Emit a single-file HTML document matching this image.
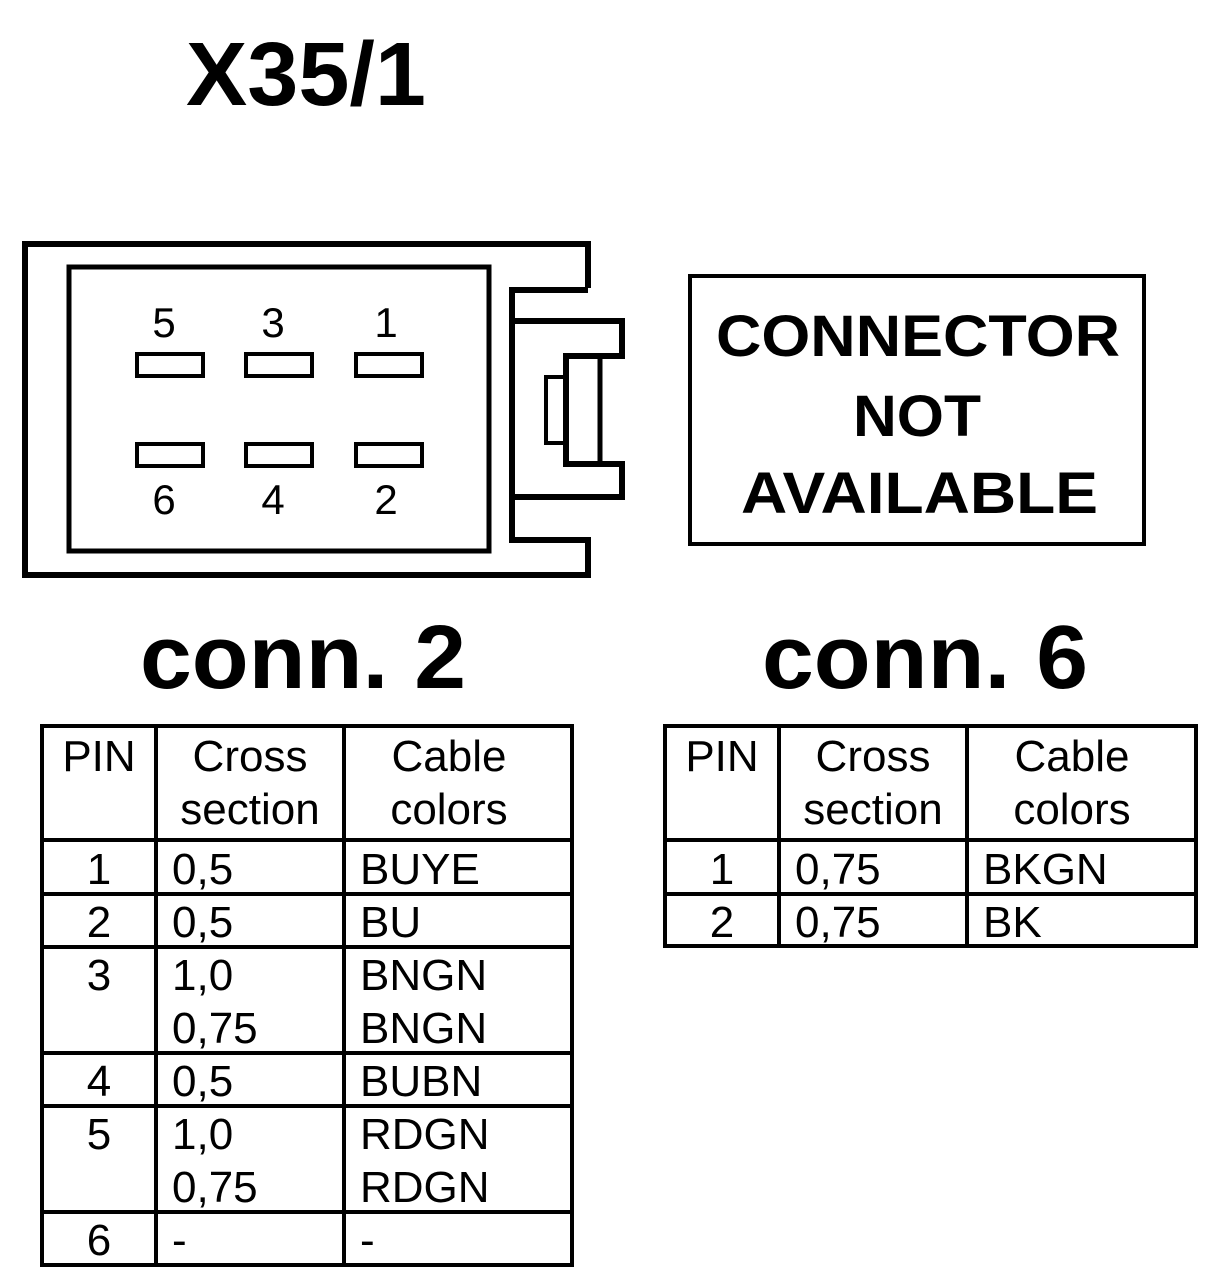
<!DOCTYPE html>
<html><head><meta charset="utf-8"><style>
html,body{margin:0;padding:0;background:#fff;}
svg{display:block}
text{font-family:"Liberation Sans",Arial,sans-serif;fill:#000}
</style></head><body>
<svg width="1216" height="1286" viewBox="0 0 1216 1286" xmlns="http://www.w3.org/2000/svg">
<rect width="1216" height="1286" fill="#fff"/>
<text x="186" y="105" font-size="90" font-weight="bold" textLength="240" lengthAdjust="spacingAndGlyphs">X35/1</text>
<g fill="none" stroke="#000">
<path d="M588,288 L588,244 L25,244 L25,575 L588,575 L588,540 L512,540 L512,290 L588,290" stroke-width="6"/>
<rect x="69" y="267" width="420" height="284" stroke-width="5"/>
<path d="M512,321 L622,321 L622,356 L566,356 L566,464 L622,464 L622,497 L512,497" stroke-width="6"/>
<line x1="600" y1="356" x2="600" y2="464" stroke-width="5"/>
<rect x="546" y="377" width="20" height="66" stroke-width="4"/>
<g stroke-width="4">
<rect x="137" y="354" width="66" height="22"/><rect x="246" y="354" width="66" height="22"/><rect x="356" y="354" width="66" height="22"/>
<rect x="137" y="444" width="66" height="22"/><rect x="246" y="444" width="66" height="22"/><rect x="356" y="444" width="66" height="22"/>
</g>
<rect x="690" y="276" width="454" height="268" stroke-width="4"/>
</g>
<g font-size="42" text-anchor="middle">
<text x="164" y="337">5</text><text x="273" y="337">3</text><text x="386" y="337">1</text>
<text x="164" y="514">6</text><text x="273" y="514">4</text><text x="386" y="514">2</text>
</g>
<g font-size="58" font-weight="bold" lengthAdjust="spacingAndGlyphs">
<text x="716" y="356" textLength="404" lengthAdjust="spacingAndGlyphs">CONNECTOR</text>
<text x="853" y="436" textLength="128" lengthAdjust="spacingAndGlyphs">NOT</text>
<text x="741" y="513" textLength="357" lengthAdjust="spacingAndGlyphs">AVAILABLE</text>
</g>
<text x="140" y="688" font-size="90" font-weight="bold" textLength="326" lengthAdjust="spacingAndGlyphs">conn. 2</text>
<text x="762" y="688" font-size="90" font-weight="bold" textLength="326" lengthAdjust="spacingAndGlyphs">conn. 6</text>
<g fill="none" stroke="#000" stroke-width="4">
<rect x="42" y="726" width="530" height="539"/>
<line x1="156" y1="726" x2="156" y2="1265"/><line x1="344" y1="726" x2="344" y2="1265"/>
<line x1="42" y1="840" x2="572" y2="840"/><line x1="42" y1="894" x2="572" y2="894"/>
<line x1="42" y1="947" x2="572" y2="947"/><line x1="42" y1="1053" x2="572" y2="1053"/>
<line x1="42" y1="1106" x2="572" y2="1106"/><line x1="42" y1="1212" x2="572" y2="1212"/>
<rect x="665" y="726" width="531" height="220"/>
<line x1="779" y1="726" x2="779" y2="946"/><line x1="967" y1="726" x2="967" y2="946"/>
<line x1="665" y1="840" x2="1196" y2="840"/><line x1="665" y1="894" x2="1196" y2="894"/>
</g>
<g font-size="44">
<g text-anchor="middle">
<text x="99" y="771">PIN</text><text x="250" y="771">Cross</text><text x="250" y="824">section</text>
<text x="449" y="771">Cable</text><text x="449" y="824">colors</text>
<text x="99" y="884">1</text><text x="99" y="937">2</text><text x="99" y="990">3</text>
<text x="99" y="1096">4</text><text x="99" y="1149">5</text><text x="99" y="1255">6</text>
<text x="722" y="771">PIN</text><text x="873" y="771">Cross</text><text x="873" y="824">section</text>
<text x="1072" y="771">Cable</text><text x="1072" y="824">colors</text>
<text x="722" y="884">1</text><text x="722" y="937">2</text>
</g>
<text x="172" y="884">0,5</text><text x="360" y="884">BUYE</text>
<text x="172" y="937">0,5</text><text x="360" y="937">BU</text>
<text x="172" y="990">1,0</text><text x="360" y="990">BNGN</text>
<text x="172" y="1043">0,75</text><text x="360" y="1043">BNGN</text>
<text x="172" y="1096">0,5</text><text x="360" y="1096">BUBN</text>
<text x="172" y="1149">1,0</text><text x="360" y="1149">RDGN</text>
<text x="172" y="1202">0,75</text><text x="360" y="1202">RDGN</text>
<text x="172" y="1255">-</text><text x="360" y="1255">-</text>
<text x="795" y="884">0,75</text><text x="983" y="884">BKGN</text>
<text x="795" y="937">0,75</text><text x="983" y="937">BK</text>
</g>
</svg>
</body></html>
